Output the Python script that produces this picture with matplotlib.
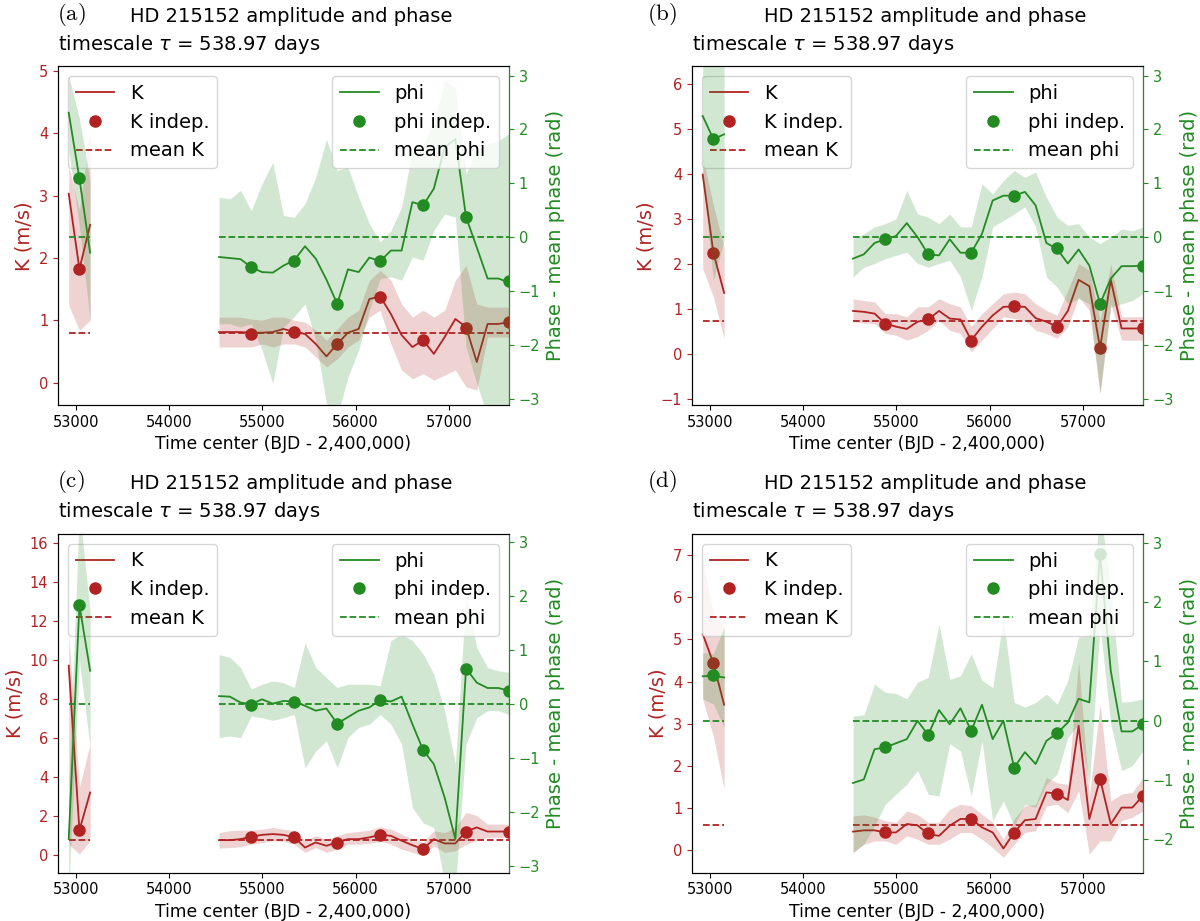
import numpy as np
import matplotlib.pyplot as plt

RED = 'firebrick'
GREEN = 'forestgreen'

# time centres of the sliding windows (BJD - 2,400,000), first 3 = early season
t = [52920, 53035, 53150,
     54534, 54650, 54765, 54880, 54995, 55111, 55226, 55341, 55457, 55572,
     55687, 55803, 55918, 56033, 56148, 56264, 56379, 56494, 56610, 56725,
     56840, 56956, 57071, 57186, 57301, 57417, 57532, 57647]
# independent (non overlapping) windows
t_ind = [53035, 54880, 55341, 55803, 56264, 56725, 57186, 57647]

# ---- panel (a)
a_K = [3.03, 1.82, 2.53,
       0.81, 0.81, 0.81, 0.80, 0.80, 0.81, 0.86, 0.81, 0.78, 0.62, 0.42, 0.62, 0.80, 0.86,
       1.34, 1.38, 1.10, 0.76, 0.57, 0.68, 0.46, 0.73, 1.02, 0.89, 0.33, 0.94, 0.94, 0.97]
a_K_lo = [1.24, 0.84, 1.00,
          0.57, 0.57, 0.57, 0.57, 0.62, 0.57, 0.62, 0.62, 0.57, 0.41, 0.25, 0.38, 0.57, 0.68,
          1.05, 1.16, 0.62, 0.20, 0.06, 0.14, 0.04, 0.12, 0.20, -0.07, -0.12, 0.73, 0.73, 0.73]
a_K_hi = [3.48, 2.76, 4.07,
          1.05, 1.05, 1.05, 1.02, 1.00, 1.05, 1.05, 1.00, 0.97, 0.84, 0.68, 0.86, 1.05, 1.16,
          1.64, 1.80, 1.64, 1.26, 1.05, 1.16, 1.05, 1.16, 1.64, 1.88, 1.26, 1.21, 1.21, 1.21]
a_K_ind = [1.82, 0.78, 0.81, 0.62, 1.38, 0.68, 0.88, 0.97]
a_K_mean = 0.80
a_phi = [2.31, 1.09, -0.29,
         -0.37, -0.39, -0.41, -0.56, -0.65, -0.66, -0.53, -0.43, -0.17, -0.40, -0.79, -1.24,
         -0.60, -0.65, -0.38, -0.45, -0.25, -0.25, 0.65, 0.59, 0.90, 1.67, 1.82, 0.37, -0.19,
         -0.77, -0.77, -0.84]
a_phi_lo = [1.60, 0.20, -1.55,
            -1.61, -1.61, -1.67, -1.61, -2.10, -2.72, -1.67, -1.48, -1.24, -1.92, -3.09, -3.34,
            -2.60, -2.10, -1.36, -0.77, -0.74, -0.80, -0.37, -0.43, 0.12, 0.43, 0.37, -2.04,
            -2.72, -3.34, -3.34, -3.34]
a_phi_hi = [3.00, 2.20, 1.05,
            0.74, 0.71, 0.87, 0.49, 0.99, 1.39, 0.40, 0.37, 0.62, 1.11, 1.82, 1.24, 1.30, 0.74,
            0.25, -0.09, 0.12, 0.56, 1.61, 1.73, 2.13, 2.91, 2.78, 1.18, 1.61, 1.73, 1.79, 1.92]
a_phi_ind = [1.09, -0.56, -0.45, -1.24, -0.45, 0.59, 0.37, -0.82]

# ---- panel (b)
b_K = [3.99, 2.25, 1.36,
       0.96, 0.94, 0.90, 0.68, 0.61, 0.56, 0.72, 0.77, 0.96, 0.79, 0.77, 0.31, 0.61, 0.86,
       1.05, 1.06, 1.05, 0.80, 0.72, 0.61, 0.96, 1.65, 1.51, 0.14, 1.65, 0.57, 0.57, 0.57]
b_K_lo = [1.90, 1.27, 0.35,
          0.72, 0.69, 0.68, 0.46, 0.42, 0.31, 0.39, 0.53, 0.75, 0.53, 0.46, 0.05, 0.31, 0.57,
          0.83, 0.79, 0.75, 0.53, 0.46, 0.35, 0.61, 1.27, 0.97, -0.87, 1.12, 0.31, 0.31, 0.31]
b_K_hi = [4.40, 3.30, 2.38,
          1.23, 1.19, 1.16, 0.90, 0.90, 0.83, 1.05, 1.05, 1.23, 1.12, 1.05, 0.61, 0.90, 1.12,
          1.34, 1.38, 1.34, 1.12, 0.97, 0.86, 1.42, 2.01, 1.86, 0.75, 2.01, 0.83, 0.83, 0.83]
b_K_ind = [2.25, 0.68, 0.78, 0.30, 1.07, 0.61, 0.14, 0.57]
b_K_mean = 0.74
b_phi = [2.25, 1.82, 1.91,
         -0.40, -0.32, -0.11, -0.04, 0.02, 0.26, 0.00, -0.32, -0.34, -0.04, -0.29, -0.29,
         0.06, 0.68, 0.77, 0.77, 0.84, 0.59, -0.11, -0.22, -0.49, -0.23, -0.53, -1.24, -0.77,
         -0.54, -0.54, -0.53]
b_phi_lo = [1.10, -0.80, -0.06,
            -0.74, -0.56, -0.49, -0.40, -0.34, -0.28, -0.49, -0.56, -0.49, -0.43, -0.74, -1.36,
            -0.74, 0.19, 0.31, 0.43, 0.56, 0.19, -0.74, -0.93, -1.24, -1.14, -1.24, -2.91,
            -1.30, -1.24, -1.18, -1.05]
b_phi_hi = [3.60, 3.60, 3.60,
            -0.03, 0.06, 0.19, 0.25, 0.34, 0.87, 0.43, 0.37, 0.25, 0.43, 0.19, 0.19, 0.99, 0.80,
            1.05, 1.24, 1.11, 1.21, 0.74, 0.37, 0.22, 0.25, 0.00, -0.12, 0.00, 0.15, 0.12, 0.19]
b_phi_ind = [1.82, -0.04, -0.32, -0.29, 0.77, -0.20, -1.24, -0.53]

# ---- panel (c)
c_K = [9.71, 1.28, 3.21,
       0.77, 0.77, 0.82, 0.94, 1.04, 1.08, 1.04, 0.91, 0.39, 0.65, 0.48, 0.65, 0.82, 0.82,
       0.91, 1.04, 0.99, 0.74, 0.51, 0.31, 0.82, 0.60, 0.60, 1.21, 1.42, 1.21, 1.21, 1.21]
c_K_lo = [0.56, 0.05, 0.74,
          0.36, 0.39, 0.43, 0.56, 0.65, 0.74, 0.70, 0.56, 0.14, 0.39, 0.14, 0.31, 0.56, 0.56,
          0.60, 0.70, 0.56, 0.31, 0.14, -0.03, 0.48, 0.14, 0.22, 0.56, 0.74, 0.91, 0.91, 0.91]
c_K_hi = [11.3, 3.47, 5.70,
          1.16, 1.25, 1.28, 1.28, 1.33, 1.42, 1.33, 1.25, 0.74, 1.00, 0.82, 1.00, 1.16, 1.21,
          1.28, 1.45, 1.33, 1.08, 0.82, 0.65, 1.25, 1.16, 1.42, 2.19, 2.02, 1.59, 1.59, 1.59]
c_K_ind = [1.28, 0.94, 0.91, 0.60, 1.04, 0.31, 1.21, 1.21]
c_K_mean = 0.80
c_phi = [-2.50, 1.84, 0.62,
         0.15, 0.14, 0.03, 0.00, 0.09, 0.01, 0.06, 0.05, -0.03, -0.12, -0.08, -0.36, -0.24,
         -0.12, -0.06, 0.08, 0.05, 0.14, -0.37, -0.85, -1.11, -1.73, -2.50, 0.66, 0.40, 0.30,
         0.30, 0.25]
c_phi_lo = [-3.50, 0.80, -0.80,
            -0.62, -0.59, -0.62, -0.22, -0.25, -0.30, -0.25, -0.19, -1.18, -0.87, -0.68, -1.18,
            -0.62, -0.43, -0.37, -0.19, -0.37, -0.74, -1.92, -2.20, -2.29, -3.30, -3.40, -0.74,
            -0.25, -0.12, -0.12, -0.19]
c_phi_hi = [-1.50, 3.60, 1.73,
            0.92, 0.87, 0.68, 0.28, 0.37, 0.43, 0.40, 0.31, 1.14, 0.68, 0.49, 0.31, 0.37, 0.37,
            0.37, 0.34, 1.18, 1.30, 1.18, 0.93, 0.56, -0.12, -1.11, 2.01, 1.05, 0.68, 0.62, 0.59]
c_phi_ind = [1.84, -0.01, 0.04, -0.36, 0.08, -0.85, 0.66, 0.25]

# ---- panel (d)
d_K = [5.13, 4.43, 3.45,
       0.44, 0.47, 0.47, 0.42, 0.42, 0.62, 0.59, 0.38, 0.34, 0.58, 0.74, 0.74, 0.54, 0.42,
       0.04, 0.42, 0.71, 0.74, 1.37, 1.34, 1.19, 2.95, 0.74, 1.69, 0.62, 1.01, 1.01, 1.29]
d_K_lo = [3.58, 2.70, 1.45,
          -0.06, 0.14, 0.22, 0.22, 0.14, 0.34, 0.26, 0.14, 0.14, 0.26, 0.42, 0.42, 0.26, 0.06,
          -0.17, 0.14, 0.42, 0.46, 1.05, 1.09, 0.89, 1.41, -0.09, 0.22, 0.22, 0.70, 0.78, 0.93]
d_K_hi = [6.90, 5.60, 5.30,
          0.81, 0.84, 0.78, 0.70, 0.66, 0.93, 0.85, 0.66, 0.66, 0.97, 1.09, 1.05, 0.85, 0.66,
          0.26, 0.74, 1.05, 1.09, 1.72, 1.60, 1.56, 4.49, 1.25, 3.47, 1.17, 1.33, 1.37, 1.72]
d_K_ind = [4.43, 0.42, 0.40, 0.74, 0.40, 1.34, 1.69, 1.29]
d_K_mean = 0.59
d_phi = [0.75, 0.76, 0.73,
         -1.05, -0.99, -0.48, -0.45, -0.38, -0.31, 0.00, -0.24, 0.18, -0.06, 0.21, -0.17, 0.27,
         -0.31, 0.00, -0.79, -0.53, -0.73, -0.34, -0.21, -0.03, 0.37, 0.31, 2.80, 0.84, -0.18,
         -0.18, -0.06]
d_phi_lo = [0.37, 0.28, -0.11,
            -2.22, -2.08, -1.77, -1.41, -1.24, -1.07, -0.84, -1.24, -1.27, -0.39, -0.51, -1.27,
            -0.34, -1.69, -1.35, -1.77, -1.41, -1.46, -1.07, -0.90, -0.28, -0.06, -1.07, 1.60,
            -0.06, -0.84, -0.76, -0.51]
d_phi_hi = [1.15, 1.13, 1.58,
            0.08, 0.10, 0.62, 0.48, 0.46, 0.37, 0.65, 0.73, 1.63, 0.70, 0.76, 1.13, 0.68, 0.56,
            1.72, 0.31, 0.23, 0.31, 0.45, 0.28, 0.68, 1.41, 1.46, 3.60, 2.20, 0.31, 0.33, 0.37]
d_phi_ind = [0.77, -0.45, -0.24, -0.17, -0.79, -0.21, 2.82, -0.06]

# y ranges
a_lims = [(-0.36, 5.07), (-3.12, 3.17)]
b_lims = [(-1.13, 6.39), (-3.12, 3.17)]
c_lims = [(-0.89, 16.46), (-3.12, 3.155)]
d_lims = [(-0.53, 7.50), (-2.56, 3.15)]

W, H = 1200, 921
AX_W, AX_H = 451, 338.5
seasons = [(0, 3), (3, len(t))]


def draw_panel(left, top, letter, letter_x, K, K_lo, K_hi, K_ind, K_mean,
               phi, phi_lo, phi_hi, phi_ind, lims):
    ax = fig.add_axes([left / W, 1 - (top + AX_H) / H, AX_W / W, AX_H / H])
    ax2 = ax.twinx()

    tt = np.array(t)
    for i0, i1 in seasons:
        ax.fill_between(tt[i0:i1], K_lo[i0:i1], K_hi[i0:i1], color=RED, alpha=0.2, lw=0)
        ax2.fill_between(tt[i0:i1], phi_lo[i0:i1], phi_hi[i0:i1], color=GREEN, alpha=0.2, lw=0)
        l1, = ax.plot(tt[i0:i1], K[i0:i1], color=RED, lw=1.3)
        l3, = ax.plot([tt[i0], tt[i1 - 1]], [K_mean, K_mean], '--', color=RED, lw=1.3)
        p1, = ax2.plot(tt[i0:i1], phi[i0:i1], color=GREEN, lw=1.3)
        p3, = ax2.plot([tt[i0], tt[i1 - 1]], [0, 0], '--', color=GREEN, lw=1.3)
    l2, = ax.plot(t_ind, K_ind, 'o', color=RED, ms=8)
    p2, = ax2.plot(t_ind, phi_ind, 'o', color=GREEN, ms=8)

    ax.set_xlim(52805, 57647)
    ax.set_ylim(lims[0])
    ax2.set_ylim(lims[1])
    ax.set_xticks([53000, 54000, 55000, 56000, 57000])

    ax.tick_params(axis='y', colors=RED, labelsize=10.5)
    ax.tick_params(axis='x', labelsize=10.5)
    ax2.tick_params(axis='y', colors=GREEN, labelsize=10.5)
    ax2.spines['right'].set_color(GREEN)

    ax.set_xlabel('Time center (BJD - 2,400,000)', fontsize=12.3)
    ax.set_ylabel('K (m/s)', color=RED, fontsize=14)
    ax2.set_ylabel('Phase - mean phase (rad)', color=GREEN, fontsize=14)

    ax.legend([l1, l2, l3], ['K', 'K indep.', 'mean K'], loc='upper left', fontsize=14)
    ax2.legend([p1, p2, p3], ['phi', 'phi indep.', 'mean phi'], loc='upper right', fontsize=14)

    # two line title plus the panel letter
    fig.text(letter_x / W, 1 - (top - 47) / H, r'$\mathrm{' + letter + '}$', fontsize=16.5,
             math_fontfamily='cm', va='baseline')
    fig.text((left + 72.5) / W, 1 - (top - 45) / H, 'HD 215152 amplitude and phase',
             fontsize=14, va='baseline')
    fig.text(left / W, 1 - (top - 17) / H, r'timescale $\tau$ = 538.97 days',
             fontsize=14, va='baseline')


fig = plt.figure(figsize=(W / 100, H / 100), dpi=100)

draw_panel(58, 66.5, '(a)', 57, a_K, a_K_lo, a_K_hi, a_K_ind, a_K_mean,
           a_phi, a_phi_lo, a_phi_hi, a_phi_ind, a_lims)
draw_panel(692, 66.5, '(b)', 647, b_K, b_K_lo, b_K_hi, b_K_ind, b_K_mean,
           b_phi, b_phi_lo, b_phi_hi, b_phi_ind, b_lims)
draw_panel(58, 534, '(c)', 57, c_K, c_K_lo, c_K_hi, c_K_ind, c_K_mean,
           c_phi, c_phi_lo, c_phi_hi, c_phi_ind, c_lims)
draw_panel(692, 534, '(d)', 647, d_K, d_K_lo, d_K_hi, d_K_ind, d_K_mean,
           d_phi, d_phi_lo, d_phi_hi, d_phi_ind, d_lims)

fig.savefig('out.png', dpi=100)
